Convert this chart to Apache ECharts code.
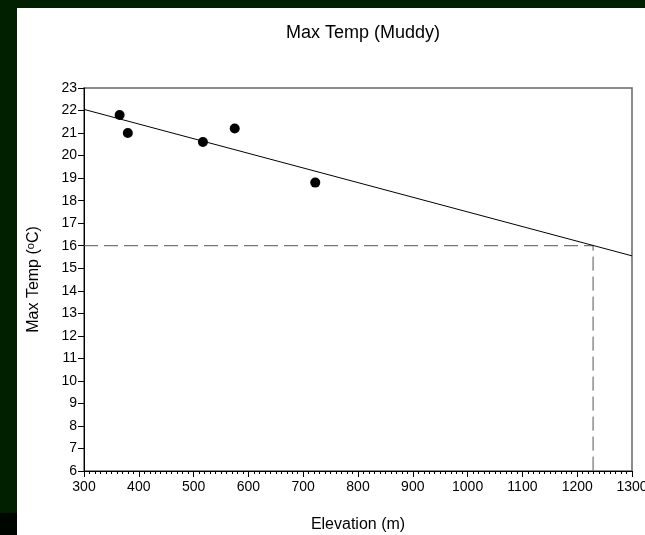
<!DOCTYPE html>
<html>
<head>
<meta charset="utf-8">
<script src="https://cdn.jsdelivr.net/npm/echarts@6/dist/echarts.min.js"></script>
<style>
html, body { margin: 0; padding: 0; background: #002000; }
#main { width: 645px; height: 535px; }
</style>
</head>
<body>
<div id="main"></div>
<script>
// 测量点 (海拔, 最高温)
var elevation = [365, 380, 517, 575, 722];
var maxTemp = [21.8, 21.0, 20.6, 21.2, 18.8];
// 回归线端点
var fitX = [300, 1300];
var fitY = [22.05, 15.55];
// 16度对应海拔的虚线
var guideX = [300, 1229, 1229];
var guideY = [16, 16, 6];

function pairs(xs, ys) {
    var out = [];
    for (var i = 0; i < xs.length; i++) {
        out.push([xs[i], ys[i]]);
    }
    return out;
}

var dom = document.getElementById("main");
var myChart = echarts.init(dom);
var font = 'Liberation Sans, Arial, sans-serif';

var option = {
    backgroundColor: '#002000',
    animation: false,
    graphic: [
        { type: 'rect', shape: { x: 17, y: 8, width: 628, height: 527 }, style: { fill: '#ffffff' }, z: -10 },
        { type: 'rect', shape: { x: 0, y: 513, width: 17, height: 22 }, style: { fill: '#000500' }, z: -10 }
    ],
    title: {
        text: 'Max Temp (Muddy)',
        left: 358,
        top: 19,
        textAlign: 'center',
        textStyle: { fontFamily: font, fontSize: 18, fontWeight: 'normal', color: '#000' }
    },
    grid: {
        left: 84,
        right: 13,
        top: 88,
        bottom: 64,
        outerBoundsMode: 'none',
        containLabel: false,
        show: true,
        borderColor: '#666',
        borderWidth: 1.5,
        backgroundColor: '#fff'
    },
    xAxis: {
        type: 'value',
        min: 300,
        max: 1300,
        interval: 100,
        name: 'Elevation (m)',
        nameLocation: 'middle',
        nameGap: 46,
        nameTextStyle: { fontFamily: font, fontSize: 16, color: '#000' },
        axisLine: { onZero: false, lineStyle: { color: '#000', width: 1 } },
        axisTick: { length: 6, lineStyle: { color: '#000' } },
        minorTick: { show: true, splitNumber: 10, length: 3, lineStyle: { color: '#000' } },
        axisLabel: { fontFamily: font, fontSize: 14, color: '#000', margin: 9, formatter: function (v) { return String(v); } },
        splitLine: { show: false }
    },
    yAxis: {
        type: 'value',
        min: 6,
        max: 23,
        interval: 1,
        name: 'Max Temp ({sup|o}C)',
        nameLocation: 'middle',
        nameGap: 41,
        nameTextStyle: {
            fontFamily: font, fontSize: 16, color: '#000',
            rich: { sup: { fontFamily: font, fontSize: 11, color: '#000', verticalAlign: 'top', padding: [0, 0, 7, 0] } }
        },
        axisLine: { onZero: false, lineStyle: { color: '#000', width: 1 } },
        axisTick: { length: 6, lineStyle: { color: '#000' } },
        axisLabel: { fontFamily: font, fontSize: 14, color: '#000', margin: 7 },
        splitLine: { show: false }
    },
    series: [
        {
            name: 'guide',
            type: 'line',
            data: pairs(guideX, guideY),
            symbol: 'none',
            lineStyle: { color: '#555', width: 1, type: [14, 6] },
            z: 1
        },
        {
            name: 'fit',
            type: 'line',
            data: pairs(fitX, fitY),
            symbol: 'none',
            lineStyle: { color: '#000', width: 1 },
            z: 2
        },
        {
            name: 'obs',
            type: 'scatter',
            data: pairs(elevation, maxTemp),
            symbol: 'circle',
            symbolSize: 10,
            itemStyle: { color: '#000', opacity: 1 },
            z: 3
        }
    ]
};

myChart.setOption(option, true);
</script>
</body>
</html>
